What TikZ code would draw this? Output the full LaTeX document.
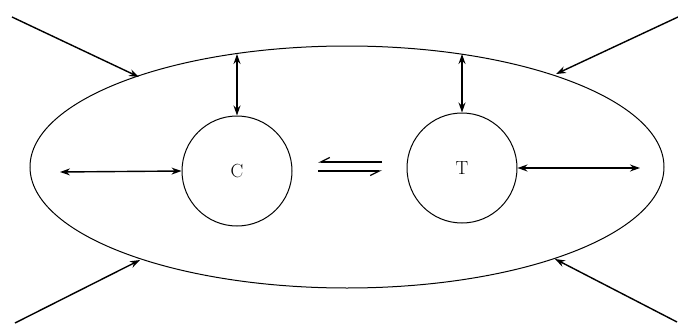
\documentclass[tikz,border=0pt]{standalone}
\usepackage{tikz}
\usetikzlibrary{arrows.meta,shapes.geometric}

\begin{document}
\begin{tikzpicture}[
  x=1pt,y=1pt,
  cell/.style={draw,ellipse,line width=1pt,minimum width=634pt,minimum height=242pt,inner sep=0pt},
  comp/.style={draw,circle,line width=1pt,minimum size=110pt,inner sep=0pt,font=\fontsize{19}{22}\selectfont},
  arr/.style={-{Stealth[length=10pt,width=7pt]},line width=1.4pt},
  darr/.style={{Stealth[length=10pt,width=7pt]}-{Stealth[length=10pt,width=7pt]},line width=1.4pt},
  harp/.style={-{Straight Barb[right,length=9pt,width=9pt]},line width=1.3pt}
]
\useasboundingbox (0,0) rectangle (678,325);
\node[cell] (outer) at (347,158) {};
\node[comp] (C) at (237,154) {C};
\node[comp] (T) at (462,157) {T};
% points on the outer boundary
\coordinate (cTop) at (237,271);
\coordinate (tTop) at (462,271);
\coordinate (lIn) at (60,153);
\coordinate (rIn) at (640,157);
\coordinate (tl) at (139,248);
\coordinate (tr) at (556,251);
\coordinate (bl) at (140,65);
\coordinate (br) at (555,66);
\coordinate (tlOut) at (12,308);
\coordinate (trOut) at (678,308);
\coordinate (blOut) at (15,2);
\coordinate (brOut) at (677,3);
% exchange between C and T
\coordinate (hA) at (382,163);
\coordinate (hB) at (318,163);
\coordinate (hC) at (318,154);
\coordinate (hD) at (382,154);
\draw[darr] (C.north) -- (cTop);
\draw[darr] (T.north) -- (tTop);
\draw[darr] (lIn) -- (C.west);
\draw[darr] (T.east) -- (rIn);
\draw[harp] (hA) -- (hB);
\draw[harp] (hC) -- (hD);
\draw[arr] (tlOut) -- (tl);
\draw[arr] (trOut) -- (tr);
\draw[arr] (blOut) -- (bl);
\draw[arr] (brOut) -- (br);
\end{tikzpicture}
\end{document}
